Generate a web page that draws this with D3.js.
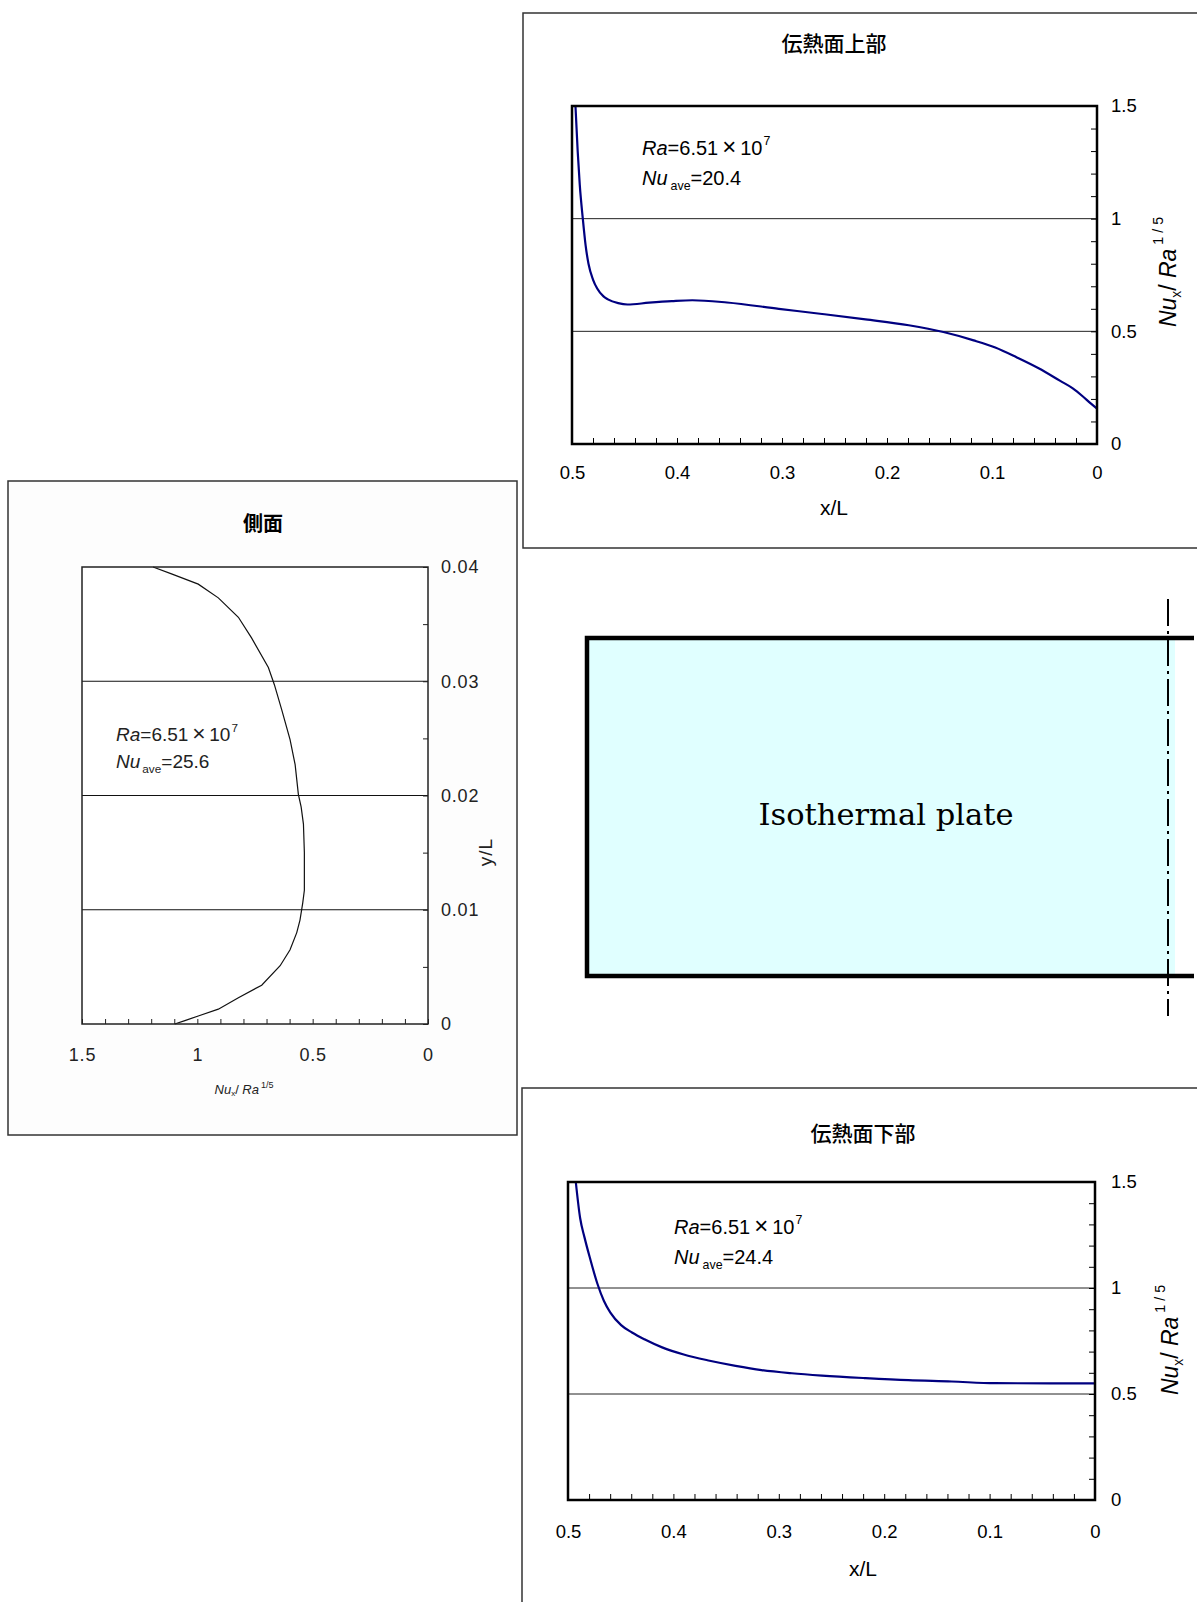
<!DOCTYPE html>
<html><head><meta charset="utf-8">
<script src="https://cdn.jsdelivr.net/npm/d3@7"></script>
<style>body{margin:0;background:#fff} svg{display:block}</style>
</head><body><svg id="c" width="1197" height="1602"></svg>
<script>
// ---------- data ----------
// top surface (伝熱面上部): x/L, Nu_x/Ra^1/5
const topXL = [0.4967,0.4946,0.4926,0.4897,0.4870,0.4843,0.4800,0.4760,0.4700,0.4658,0.4560,0.4472,0.4266,0.4050,0.3854,0.3524,0.3030,0.2618,0.2205,0.1793,0.1463,0.1175,0.0969,0.0763,0.0556,0.0350,0.0234,0.0137,0.0060,0.0];
const topNu = [1.50,1.30,1.15,1.00,0.88,0.80,0.73,0.69,0.655,0.642,0.625,0.619,0.627,0.634,0.638,0.628,0.600,0.577,0.553,0.527,0.497,0.460,0.428,0.384,0.336,0.280,0.248,0.212,0.180,0.157];
// bottom surface (伝熱面下部)
const botXL = [0.4926,0.4885,0.4844,0.4791,0.4721,0.4660,0.4598,0.4496,0.4393,0.4270,0.4107,0.3902,0.3656,0.3410,0.3164,0.2877,0.2590,0.2180,0.1770,0.1360,0.0950,0.0];
const botNu = [1.50,1.33,1.24,1.14,1.02,0.94,0.884,0.825,0.790,0.757,0.720,0.686,0.657,0.633,0.613,0.598,0.587,0.575,0.565,0.559,0.551,0.550];
// side surface (側面): Nu_x/Ra^1/5, y/L
const sideNu = [1.098,1.054,0.996,0.909,0.822,0.721,0.641,0.598,0.569,0.555,0.543,0.536,0.536,0.540,0.550,0.562,0.576,0.598,0.634,0.666,0.692,0.765,0.822,0.909,0.996,1.112,1.192];
const sideYL = [0,0.0003,0.0007,0.0013,0.0023,0.0034,0.0051,0.0065,0.008,0.0091,0.0106,0.0117,0.0150,0.0175,0.0190,0.0201,0.0227,0.0249,0.0275,0.0297,0.0312,0.0338,0.0356,0.0373,0.0385,0.0394,0.04];

const xlTicks = [0.5,0.4,0.3,0.2,0.1,0];
const nuTicks = [0,0.5,1,1.5];
const nuGrid = [0.5,1];
const sideYTicks = [0,0.01,0.02,0.03,0.04];
const sideYGrid = [0.01,0.02,0.03];
const sideXTicks = [1.5,1,0.5,0];
const titleTop = "伝熱面上部", titleBot = "伝熱面下部", titleSide = "側面";
const raMant = "=6.51", raTimes = "\u00D7", raBase = "10", raExp = "7";
const nuAveTop = "=20.4", nuAveBot = "=24.4", nuAveSide = "=25.6";
const plateLabel = "Isothermal plate";

// ---------- drawing ----------
const svg = d3.select("#c");
svg.append("rect").attr("width",1197).attr("height",1602).attr("fill","#fff");
const SANS = "'Liberation Sans', Arial, sans-serif";
const CJK = "'Noto Sans CJK JP', sans-serif";

function cleanAxis(g){ g.select(".domain").remove(); }

function annot(g, x, y1, y2, nuAve, fs, gap, col){
  const t1 = g.append("text").attr("x",x).attr("y",y1).attr("font-family",SANS).attr("font-size",fs).attr("fill",col);
  t1.append("tspan").attr("font-style","italic").text("Ra");
  t1.append("tspan").text(raMant);
  t1.append("tspan").attr("dx",fs*0.2).attr("font-size",fs*1.2).attr("font-weight",300).text(raTimes);
  t1.append("tspan").attr("dx",fs*0.2).text(raBase);
  t1.append("tspan").attr("font-size",fs*0.62).attr("dy",-fs*0.5).attr("dx",1).text(raExp);
  const t2 = g.append("text").attr("x",x).attr("y",y2).attr("font-family",SANS).attr("font-size",fs).attr("fill",col);
  t2.append("tspan").attr("font-style","italic").text("Nu");
  t2.append("tspan").attr("font-size",fs*0.62).attr("dy",fs*0.25).attr("dx",gap).text("ave");
  t2.append("tspan").attr("dy",-fs*0.25).text(nuAve);
}

function nuTitle(g, x, y, fs){
  const t = g.append("text").attr("transform",`translate(${x},${y}) rotate(-90)`)
    .attr("text-anchor","middle").attr("font-family",SANS).attr("font-size",fs);
  t.append("tspan").attr("font-style","italic").text("Nu");
  t.append("tspan").attr("font-size",fs*0.6).attr("dy",fs*0.2).text("x");
  t.append("tspan").attr("dy",-fs*0.2).text("/ ");
  t.append("tspan").attr("font-style","italic").text("Ra");
  t.append("tspan").attr("font-size",fs*0.62).attr("dy",-fs*0.55).attr("dx",4).text("1 / 5");
}

function surfacePanel(o){
  const g = svg.append("g");
  g.append("path").attr("d",`M1200,${o.bt}H${o.bl}V${o.bb}H1200`).attr("fill","none").attr("stroke","#333").attr("stroke-width",1.5);
  const x = d3.scaleLinear().domain([0.5,0]).range([o.l,o.r]);
  const y = d3.scaleLinear().domain([0,1.5]).range([o.b,o.t]);
  g.selectAll(".grid").data(nuGrid).join("line").attr("x1",o.l).attr("x2",o.r)
    .attr("y1",d=>y(d)).attr("y2",d=>y(d)).attr("stroke","#222").attr("stroke-width",1);
  const gx = g.append("g").attr("transform",`translate(0,${o.b})`)
    .call(d3.axisBottom(x).tickValues(d3.range(0,0.5001,0.02)).tickSize(-6).tickFormat(""));
  cleanAxis(gx); gx.selectAll("line").attr("stroke","#000");
  const gy = g.append("g").attr("transform",`translate(${o.r},0)`)
    .call(d3.axisRight(y).tickValues(d3.range(0,1.5001,0.1)).tickSize(-6).tickFormat(""));
  cleanAxis(gy); gy.selectAll("line").attr("stroke","#000");
  const lx = g.append("g").attr("transform",`translate(0,${o.b})`)
    .call(d3.axisBottom(x).tickValues(xlTicks).tickSize(0).tickPadding(o.xpad).tickFormat(d=>String(d)));
  cleanAxis(lx);
  lx.selectAll("text").attr("font-family",SANS).attr("font-size",18.5).attr("fill","#000");
  const ly = g.append("g").attr("transform",`translate(${o.r},0)`)
    .call(d3.axisRight(y).tickValues(nuTicks).tickSize(0).tickPadding(o.ypad).tickFormat(d=>String(d)));
  cleanAxis(ly);
  ly.selectAll("text").attr("font-family",SANS).attr("font-size",18.5).attr("fill","#000");
  const pts = o.xs.map((v,i)=>[x(v), y(o.ys[i])]);
  g.append("path").attr("d",d3.line().curve(d3.curveMonotoneX)(pts))
    .attr("fill","none").attr("stroke","#000080").attr("stroke-width",2.2);
  g.append("rect").attr("x",o.l).attr("y",o.t).attr("width",o.r-o.l).attr("height",o.b-o.t)
    .attr("fill","none").attr("stroke","#000").attr("stroke-width",2.5);
  g.append("text").attr("x",o.tx).attr("y",o.ty).attr("text-anchor","middle").attr("dominant-baseline","central")
    .attr("font-family",CJK).attr("font-size",21).attr("font-weight",500).text(o.title);
  g.append("text").attr("x",o.tx).attr("y",o.xly).attr("text-anchor","middle").attr("dominant-baseline","central")
    .attr("font-family",SANS).attr("font-size",21).text("x/L");
  nuTitle(g, o.ntx, o.nty, 23);
  annot(g, o.ax, o.ay1, o.ay2, o.nuAve, 20, 3, "#000");
}

surfacePanel({bl:523,bt:13,bb:548,l:572,r:1097,t:106,b:444,xs:topXL,ys:topNu,
  xpad:22,ypad:14,title:titleTop,tx:834,ty:42,xly:507,ntx:1176,nty:272,ax:642,ay1:155,ay2:185,nuAve:nuAveTop});
surfacePanel({bl:522,bt:1088,bb:1700,l:568,r:1095,t:1182,b:1500,xs:botXL,ys:botNu,
  xpad:25,ypad:16,title:titleBot,tx:863,ty:1132,xly:1568,ntx:1178,nty:1340,ax:674,ay1:1234,ay2:1264,nuAve:nuAveBot});

// side panel
(function(){
  const g = svg.append("g");
  g.append("rect").attr("x",8).attr("y",481).attr("width",509).attr("height",654)
    .attr("fill","#fdfdfd").attr("stroke","#333").attr("stroke-width",1.5);
  const l=82,r=428,t=567,b=1024;
  const x = d3.scaleLinear().domain([1.5,0]).range([l,r]);
  const y = d3.scaleLinear().domain([0,0.04]).range([b,t]);
  g.append("rect").attr("x",l).attr("y",t).attr("width",r-l).attr("height",b-t).attr("fill","#fff");
  g.selectAll(".grid").data(sideYGrid).join("line").attr("x1",l).attr("x2",r)
    .attr("y1",d=>y(d)).attr("y2",d=>y(d)).attr("stroke","#111").attr("stroke-width",1.2);
  const gx = g.append("g").attr("transform",`translate(0,${b})`)
    .call(d3.axisBottom(x).tickValues(d3.range(0,1.5001,0.1)).tickSize(-5).tickFormat(""));
  cleanAxis(gx); gx.selectAll("line").attr("stroke","#222");
  const gy = g.append("g").attr("transform",`translate(${r},0)`)
    .call(d3.axisRight(y).tickValues(d3.range(0,0.04001,0.005)).tickSize(-5).tickFormat(""));
  cleanAxis(gy); gy.selectAll("line").attr("stroke","#222");
  const lx = g.append("g").attr("transform",`translate(0,${b})`)
    .call(d3.axisBottom(x).tickValues(sideXTicks).tickSize(0).tickPadding(24).tickFormat(d=>String(d)));
  cleanAxis(lx); lx.selectAll("text").attr("font-family",SANS).attr("font-size",18).attr("letter-spacing",0.8).attr("fill","#222");
  const ly = g.append("g").attr("transform",`translate(${r},0)`)
    .call(d3.axisRight(y).tickValues(sideYTicks).tickSize(0).tickPadding(13).tickFormat(d=>String(d)));
  cleanAxis(ly); ly.selectAll("text").attr("font-family",SANS).attr("font-size",18).attr("letter-spacing",0.8).attr("fill","#222");
  const pts = sideNu.map((v,i)=>[x(v), y(sideYL[i])]);
  g.append("path").attr("d",d3.line()(pts)).attr("fill","none").attr("stroke","#111").attr("stroke-width",1.2);
  g.append("rect").attr("x",l).attr("y",t).attr("width",r-l).attr("height",b-t)
    .attr("fill","none").attr("stroke","#222").attr("stroke-width",1.5);
  g.append("text").attr("x",263).attr("y",522).attr("text-anchor","middle").attr("dominant-baseline","central")
    .attr("font-family",CJK).attr("font-size",20).attr("font-weight",700).text(titleSide);
  g.append("text").attr("transform","translate(492,852) rotate(-90)").attr("text-anchor","middle")
    .attr("font-family",SANS).attr("font-size",19).attr("letter-spacing",1).attr("fill","#222").text("y/L");
  const xt = g.append("text").attr("x",244).attr("y",1094).attr("text-anchor","middle").attr("font-family",SANS).attr("font-size",13).attr("fill","#222");
  xt.append("tspan").attr("font-style","italic").text("Nu");
  xt.append("tspan").attr("font-size",8).attr("dy",2).text("x");
  xt.append("tspan").attr("dy",-2).text("/ ");
  xt.append("tspan").attr("font-style","italic").text("Ra");
  xt.append("tspan").attr("font-size",9).attr("dy",-6).attr("dx",2).text("1/5");
  annot(g, 116, 741, 768, nuAveSide, 19, 2, "#222");
})();

// plate diagram
(function(){
  const g = svg.append("g");
  g.append("rect").attr("x",587).attr("y",638).attr("width",588).attr("height",338).attr("fill","#e0ffff");
  g.append("line").attr("x1",1168).attr("x2",1168).attr("y1",599).attr("y2",1016)
    .attr("stroke","#000").attr("stroke-width",2).attr("stroke-dasharray","27,5,3,5");
  g.append("path").attr("d","M1194,638H587V976H1194").attr("fill","none").attr("stroke","#000").attr("stroke-width",4.5);
  g.append("text").attr("x",886).attr("y",825).attr("text-anchor","middle")
    .attr("font-family","'DejaVu Serif', serif").attr("font-size",30.5).text(plateLabel);
})();
</script></body></html>
